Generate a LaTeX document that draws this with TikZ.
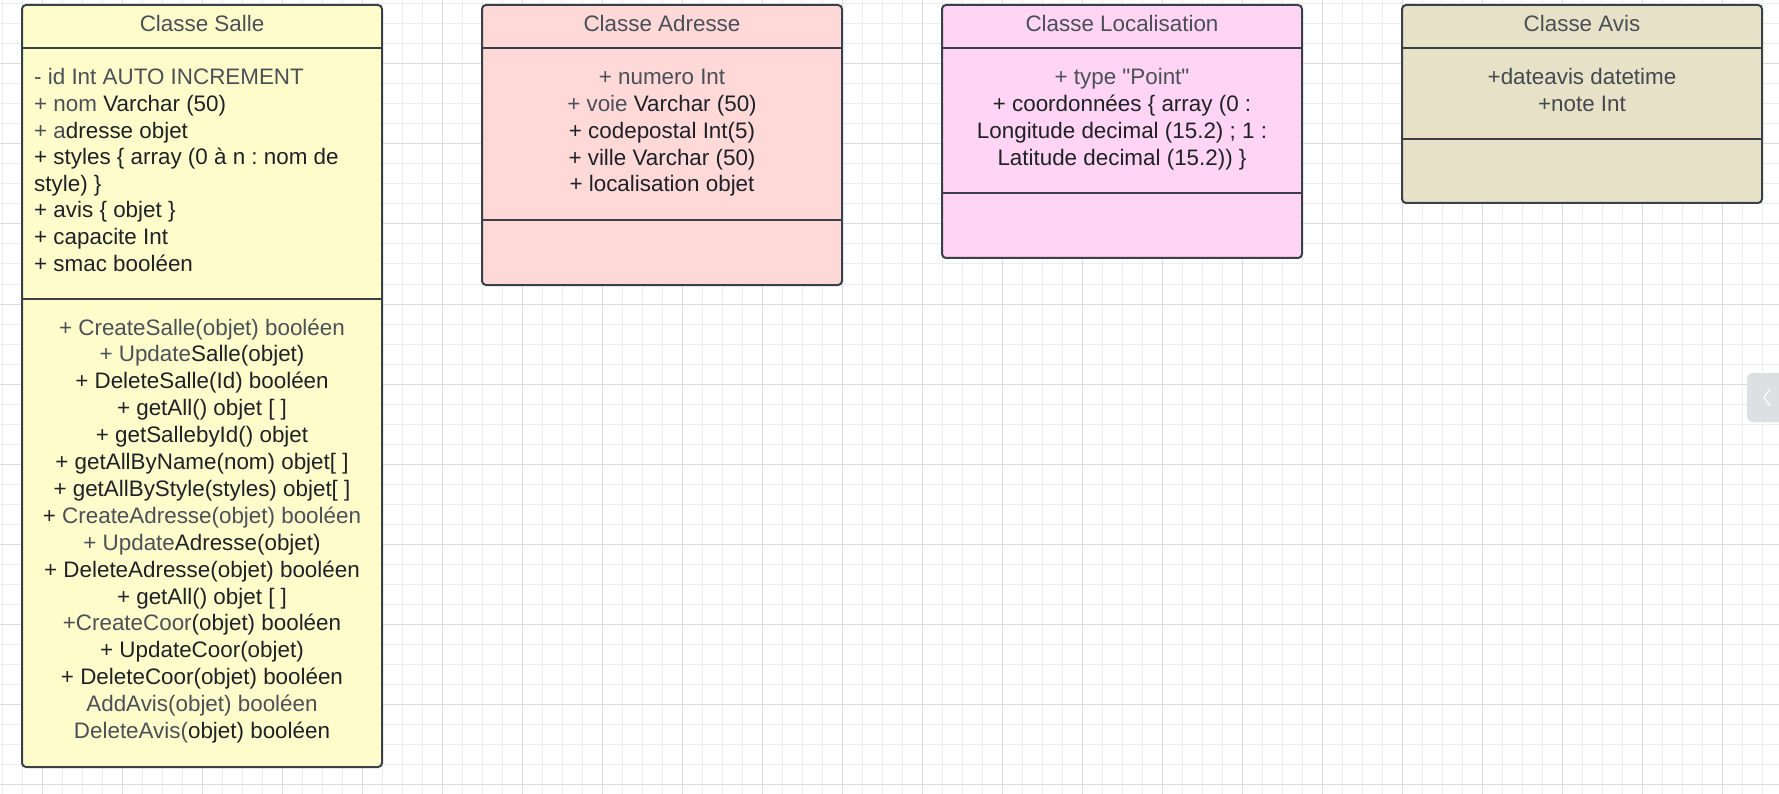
\documentclass[tikz,border=0pt]{standalone}
\usepackage{fontspec}
\setmainfont[Ligatures=TeXOff]{Liberation Sans}
\frenchspacing
\definecolor{gridminor}{HTML}{EDEDED}
\definecolor{gridmajor}{HTML}{DCDCDC}
\definecolor{boxline}{HTML}{3A4048}
\definecolor{txtgray}{HTML}{4B5057}
\definecolor{txtdark}{HTML}{1E2226}
\definecolor{fsalle}{HTML}{FFFCCC}
\definecolor{fadresse}{HTML}{FFD8D8}
\definecolor{floc}{HTML}{FFD4F4}
\definecolor{favis}{HTML}{E7E1C7}
\definecolor{btngray}{HTML}{DDDFE2}
\newcommand\gr[1]{\textcolor{txtgray}{#1}}
\tikzset{
  classbox/.style={draw=boxline, line width=2pt, rounded corners=4pt},
  sepline/.style={draw=boxline, line width=2pt},
  txt/.style={inner sep=0pt, font=\fontsize{22.4}{26}\selectfont, text=txtdark},
  ltxt/.style={txt, anchor=base west},
  ctxt/.style={txt, anchor=base},
  ttl/.style={txt, anchor=base, text=txtgray},
}
\begin{document}
\begin{tikzpicture}[x=1pt,y=-1pt]
\useasboundingbox (0,0) rectangle (1779,794);
\fill[white] (0,0) rectangle (1779,794);
% grid
\foreach \x in {2,22,...,1779} \draw[gridminor, line width=1pt] (\x,0) -- (\x,794);
\foreach \y in {4,24,...,794} \draw[gridminor, line width=1pt] (0,\y) -- (1779,\y);
\foreach \x in {42,122,...,1779} \draw[gridmajor, line width=1pt] (\x,0) -- (\x,794);
\foreach \y in {64,144,...,794} \draw[gridmajor, line width=1pt] (0,\y) -- (1779,\y);
% side button
\fill[btngray, rounded corners=6pt] (1747,373) rectangle (1795,422);
\draw[white, line width=1.2pt] (1770,389) -- (1764,397.5) -- (1770,406);

% ---------- Classe Salle ----------
\draw[classbox, fill=fsalle] (22,5) rectangle (382,767);
\draw[sepline] (22,48) -- (382,48);
\draw[sepline] (22,299) -- (382,299);
\node[ttl] (salleT) at (202,31.5) {Classe Salle};
\node[ltxt] (sa1) at (34,85) {\gr{- id Int AUTO INCREMENT}};
\node[ltxt] (sa2) at (34,111.6) {\gr{+ nom} Varchar (50)};
\node[ltxt] (sa3) at (34,138.2) {\gr{+ a}dresse objet};
\node[ltxt] (sa4) at (34,164.8) {+ styles \{ array (0 à n : nom de};
\node[ltxt] (sa5) at (34,191.4) {style) \}};
\node[ltxt] (sa6) at (34,218.0) {+ avis \{ objet \}};
\node[ltxt] (sa7) at (34,244.6) {+ capacite Int};
\node[ltxt] (sa8) at (34,271.2) {+ smac booléen};
\node[ctxt] (sm1) at (202,335.0) {\gr{+ CreateSalle(objet) booléen}};
\node[ctxt] (sm2) at (202,361.9) {\gr{+ Update}Salle(objet)};
\node[ctxt] (sm3) at (202,388.8) {+ DeleteSalle(Id) booléen};
\node[ctxt] (sm4) at (202,415.7) {+ getAll() objet [ ]};
\node[ctxt] (sm5) at (202,442.6) {+ getSallebyId() objet};
\node[ctxt] (sm6) at (202,469.5) {+ getAllByName(nom) objet[ ]};
\node[ctxt] (sm7) at (202,496.4) {+ getAllByStyle(styles) objet[ ]};
\node[ctxt] (sm8) at (202,523.3) {+ \gr{CreateAdresse(objet) booléen}};
\node[ctxt] (sm9) at (202,550.2) {\gr{+ Update}Adresse(objet)};
\node[ctxt] (sm10) at (202,577.1) {+ DeleteAdresse(objet) booléen};
\node[ctxt] (sm11) at (202,604.0) {+ getAll() objet [ ]};
\node[ctxt] (sm12) at (202,630.9) {\gr{+CreateCoor}(objet) booléen};
\node[ctxt] (sm13) at (202,657.8) {+ UpdateCoor(objet)};
\node[ctxt] (sm14) at (202,684.7) {+ DeleteCoor(objet) booléen};
\node[ctxt] (sm15) at (202,711.6) {\gr{AddAvis(objet) booléen}};
\node[ctxt] (sm16) at (202,738.5) {\gr{DeleteAvis(}objet) booléen};

% ---------- Classe Adresse ----------
\draw[classbox, fill=fadresse] (482,5) rectangle (842,285);
\draw[sepline] (482,48) -- (842,48);
\draw[sepline] (482,220) -- (842,220);
\node[ttl] (adrT) at (662,31.5) {Classe Adresse};
\node[ctxt] (ad1) at (662,85) {\gr{+ numero Int}};
\node[ctxt] (ad2) at (662,111.7) {\gr{+ voie} Varchar (50)};
\node[ctxt] (ad3) at (662,138.4) {+ codepostal Int(5)};
\node[ctxt] (ad4) at (662,165.1) {+ ville Varchar (50)};
\node[ctxt] (ad5) at (662,191.8) {+ localisation objet};

% ---------- Classe Localisation ----------
\draw[classbox, fill=floc] (942,5) rectangle (1302,258);
\draw[sepline] (942,48) -- (1302,48);
\draw[sepline] (942,193) -- (1302,193);
\node[ttl] (locT) at (1122,31.5) {Classe Localisation};
\node[ctxt] (lo1) at (1122,85) {\gr{+ type "Point"}};
\node[ctxt] (lo2) at (1122,111.7) {+ coordonnées \{ array (0 :};
\node[ctxt] (lo3) at (1122,138.4) {Longitude decimal (15.2) ; 1 :};
\node[ctxt] (lo4) at (1122,165.1) {Latitude decimal (15.2)) \}};

% ---------- Classe Avis ----------
\draw[classbox, fill=favis] (1402,5) rectangle (1762,203);
\draw[sepline] (1402,48) -- (1762,48);
\draw[sepline] (1402,139) -- (1762,139);
\node[ttl] (avT) at (1582,31.5) {Classe Avis};
\node[ctxt, text=txtgray!85!txtdark] (av1) at (1582,85) {+dateavis datetime};
\node[ctxt, text=txtgray!85!txtdark] (av2) at (1582,111.7) {+note Int};
\end{tikzpicture}
\end{document}
